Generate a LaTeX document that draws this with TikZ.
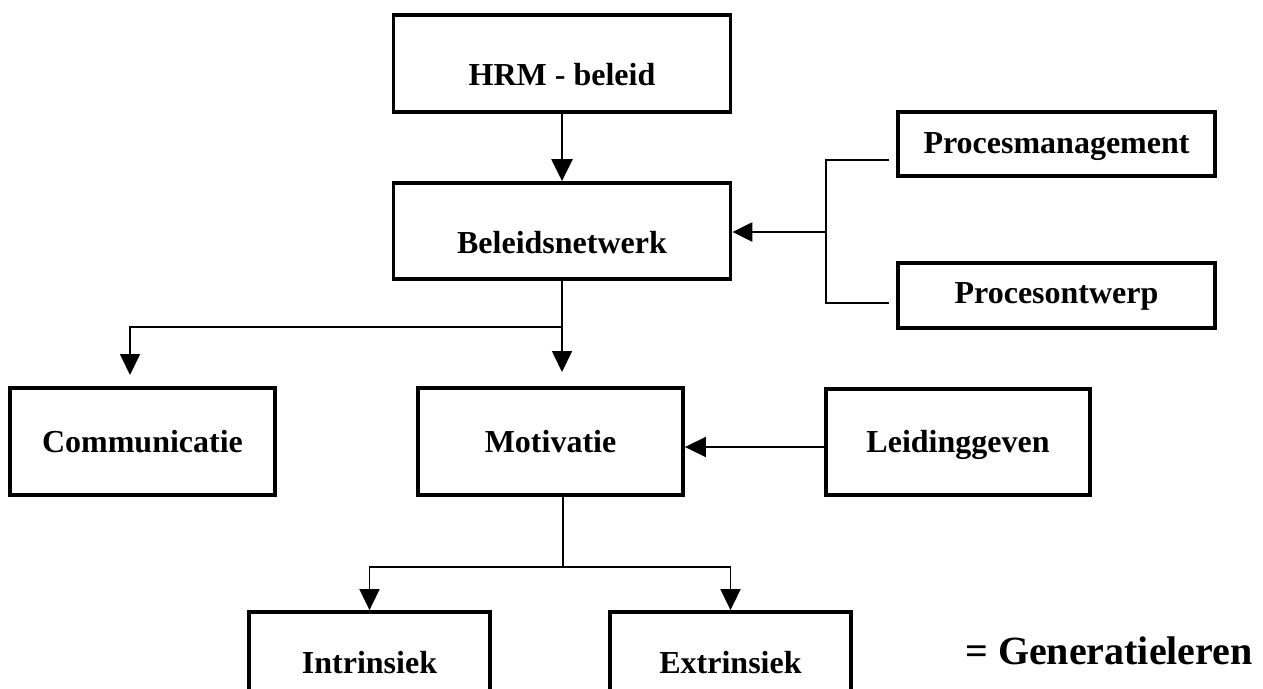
\documentclass[tikz,border=0pt]{standalone}
\usepackage{fontspec}
\setmainfont{Liberation Serif}
\usetikzlibrary{arrows.meta}
\newcommand\boxfont{\fontsize{32}{38}\selectfont\bfseries}
\newcommand\notefont{\fontsize{40}{48}\selectfont\bfseries}
\tikzset{
  box/.style={draw, line width=3.8pt, line join=miter, inner sep=0pt,
              anchor=base, font=\boxfont, align=center},
  conn/.style={line width=1.7pt},
  thick conn/.style={line width=2.4pt},
  arr/.style={conn, -{Triangle[length=21pt,width=20pt]}},
  big arr/.style={thick conn, -{Triangle[length=22pt,width=21pt]}},
}
\begin{document}
\begin{tikzpicture}[x=1pt, y=-1pt]
\useasboundingbox (0,0) rectangle (1263,688);
\clip (0,0) rectangle (1263,688);

% boxes
\node[box, minimum width=337pt, text height=70pt, text depth=27pt] (hrm) at (562,85) {HRM - beleid};
\node[box, minimum width=337pt, text height=70pt, text depth=26pt] (bn) at (562,253) {Beleidsnetwerk};
\node[box, minimum width=317pt, text height=41pt, text depth=23pt] (pm) at (1056.5,153) {Procesmanagement};
\node[box, minimum width=317pt, text height=40pt, text depth=25pt] (po) at (1056.5,303) {Procesontwerp};
\node[box, minimum width=265pt, text height=64pt, text depth=43pt] (com) at (142.5,452) {Communicatie};
\node[box, minimum width=265pt, text height=64pt, text depth=43pt] (mot) at (550.5,452) {Motivatie};
\node[box, minimum width=264pt, text height=63pt, text depth=43pt] (lei) at (958,452) {Leidinggeven};
\node[box, minimum width=241pt, text height=61pt, text depth=50pt] (intr) at (369.5,673) {Intrinsiek};
\node[box, minimum width=241pt, text height=61pt, text depth=50pt] (extr) at (730.5,673) {Extrinsiek};

\node[anchor=base west, inner sep=0pt, font=\notefont] (gen) at (965,664) {= Generatieleren};

% HRM -> Beleidsnetwerk
\draw[big arr] (hrm.south) -- (bn.north);

% bracket from the two process boxes into Beleidsnetwerk
\coordinate (pmin) at (889,160);
\coordinate (poin) at (889,303);
\coordinate (jn) at (826,232);
\draw[thick conn] (pmin) -| (jn) |- (poin);
\draw[thick conn, -{Triangle[length=20pt,width=19pt]}] (jn) -- (bn.east |- jn);

% Beleidsnetwerk -> Communicatie, Motivatie
\coordinate (split) at (562,327);
\coordinate (comin) at (130,375);
\coordinate (motin) at (562,372);
\draw[conn] (bn.south) -- (split);
\draw[arr] (split) -| (comin);
\draw[arr] (split) -- (motin);

% Leidinggeven -> Motivatie
\draw[arr] (lei.west |- 0,447) -- (mot.east |- 0,447);

% Motivatie -> Intrinsiek, Extrinsiek
\coordinate (split2) at (563,567);
\draw[conn] (mot.south -| split2) -- (split2);
\draw[arr] (split2) -| (intr.north);
\draw[arr] (split2) -| (extr.north);
\end{tikzpicture}
\end{document}
